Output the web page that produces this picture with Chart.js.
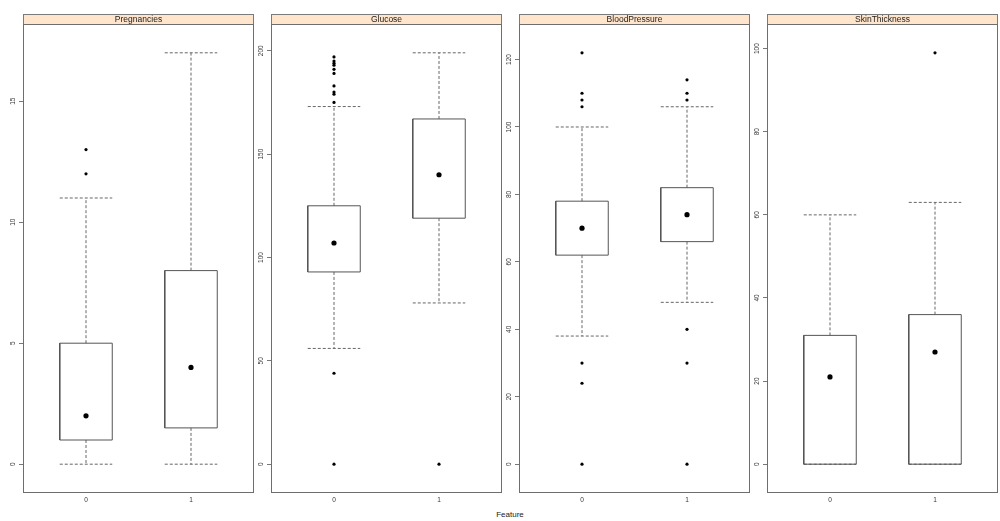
<!DOCTYPE html>
<html><head><meta charset="utf-8">
<script src="https://cdn.jsdelivr.net/npm/chart.js@4"></script>
<style>
html,body{margin:0;padding:0;background:#fff;width:1000px;height:521px;overflow:hidden;font-family:"Liberation Sans",Arial,sans-serif;}
.panel{position:absolute;top:0;width:258px;height:510px;}
#xlab{position:absolute;left:460px;width:100px;top:510px;text-align:center;font-size:8px;line-height:10px;color:#222;}
</style></head><body>
<div class="panel" style="left:0px"><canvas id="c0" width="258" height="510"></canvas></div>
<div class="panel" style="left:248px"><canvas id="c1" width="258" height="510"></canvas></div>
<div class="panel" style="left:496px"><canvas id="c2" width="258" height="510"></canvas></div>
<div class="panel" style="left:744px"><canvas id="c3" width="258" height="510"></canvas></div>
<div id="xlab">Feature</div>
<script>
// ---- data ----
const features = ['Pregnancies', 'Glucose', 'BloodPressure', 'SkinThickness'];
const groups = ['0', '1'];

const pregLower = [0, 0];
const pregQ1 = [1, 1.5];
const pregMedian = [2, 4];
const pregQ3 = [5, 8];
const pregUpper = [11, 17];
const pregOutliers = [[12, 13], []];
const pregTicks = [0, 5, 10, 15];

const gluLower = [56, 78];
const gluQ1 = [93, 119];
const gluMedian = [107, 140];
const gluQ3 = [125, 167];
const gluUpper = [173, 199];
const gluOutliers = [[0, 44, 175, 179, 180, 183, 189, 191, 193, 194, 195, 197], [0]];
const gluTicks = [0, 50, 100, 150, 200];

const bpLower = [38, 48];
const bpQ1 = [62, 66];
const bpMedian = [70, 74];
const bpQ3 = [78, 82];
const bpUpper = [100, 106];
const bpOutliers = [[0, 24, 30, 106, 108, 110, 122], [0, 30, 40, 108, 110, 114]];
const bpTicks = [0, 20, 40, 60, 80, 100, 120];

const skinLower = [0, 0];
const skinQ1 = [0, 0];
const skinMedian = [21, 27];
const skinQ3 = [31, 36];
const skinUpper = [60, 63];
const skinOutliers = [[], [99]];
const skinTicks = [0, 20, 40, 60, 80, 100];

// ---- build panels ----
const panels = [
  {title: features[0], lower: pregLower, q1: pregQ1, med: pregMedian, q3: pregQ3, upper: pregUpper, out: pregOutliers, ticks: pregTicks},
  {title: features[1], lower: gluLower, q1: gluQ1, med: gluMedian, q3: gluQ3, upper: gluUpper, out: gluOutliers, ticks: gluTicks},
  {title: features[2], lower: bpLower, q1: bpQ1, med: bpMedian, q3: bpQ3, upper: bpUpper, out: bpOutliers, ticks: bpTicks},
  {title: features[3], lower: skinLower, q1: skinQ1, med: skinMedian, q3: skinQ3, upper: skinUpper, out: skinOutliers, ticks: skinTicks}
];

const FONT = '"Liberation Sans", Arial, sans-serif';

const panelDecor = {
  id: 'panelDecor',
  afterDraw(chart, args, opts) {
    const ctx = chart.ctx, a = chart.chartArea, ys = chart.scales.y;
    const L = Math.round(a.left) + 0.5, R = Math.round(a.right) - 0.5;
    const T = Math.round(a.top) + 0.5, B = Math.round(a.bottom) - 0.5;
    ctx.save();
    // strip
    ctx.fillStyle = '#ffe5cc';
    ctx.fillRect(L, T - 10, R - L, 10);
    ctx.strokeStyle = '#7a7a7a';
    ctx.lineWidth = 1;
    ctx.strokeRect(L, T - 10, R - L, 10);
    ctx.fillStyle = '#222';
    ctx.font = '8.5px ' + FONT;
    ctx.textAlign = 'center';
    ctx.textBaseline = 'middle';
    ctx.fillText(opts.title, (L + R) / 2, T - 4.5);
    // frame
    ctx.strokeStyle = '#6e6e6e';
    ctx.strokeRect(L, T, R - L, B - T);
    // y tick marks and rotated labels
    ctx.font = '6.5px ' + FONT;
    ctx.fillStyle = '#333';
    ys.ticks.forEach(t => {
      const y = ys.getPixelForValue(t.value);
      ctx.save();
      ctx.translate(a.left - 10, y);
      ctx.rotate(-Math.PI / 2);
      ctx.fillText(String(t.value), 0, 0);
      ctx.restore();
    });
    ctx.restore();
  }
};

function makeChart(id, p) {
  const h = 0.25;
  const boxPts = [], whiskPts = [], medPts = [], outPts = [];
  let lo = Infinity, hi = -Infinity;
  p.q1.forEach((_, i) => {
    const c = i + 1;
    boxPts.push({x: c - h, y: p.q1[i]}, {x: c + h, y: p.q1[i]}, {x: c + h, y: p.q3[i]},
                {x: c - h, y: p.q3[i]}, {x: c - h, y: p.q1[i]}, {x: c, y: null});
    whiskPts.push({x: c, y: p.q3[i]}, {x: c, y: p.upper[i]}, {x: c, y: null},
                  {x: c - h, y: p.upper[i]}, {x: c + h, y: p.upper[i]}, {x: c, y: null},
                  {x: c, y: p.q1[i]}, {x: c, y: p.lower[i]}, {x: c, y: null},
                  {x: c - h, y: p.lower[i]}, {x: c + h, y: p.lower[i]}, {x: c, y: null});
    medPts.push({x: c, y: p.med[i]});
    p.out[i].forEach(v => outPts.push({x: c, y: v}));
    [p.lower[i], p.upper[i], ...p.out[i]].forEach(v => { lo = Math.min(lo, v); hi = Math.max(hi, v); });
  });
  const pad = (hi - lo) * 0.07;
  return new Chart(document.getElementById(id), {
    type: 'scatter',
    data: {
      datasets: [
        {data: whiskPts, showLine: true, pointRadius: 0, borderColor: '#666', borderWidth: 1, borderDash: [3, 2], spanGaps: false, order: 4},
        {data: boxPts, showLine: true, pointRadius: 0, borderColor: '#555', borderWidth: 1, spanGaps: false, order: 3},
        {data: medPts, pointRadius: 2.6, backgroundColor: '#000', borderWidth: 0, order: 2},
        {data: outPts, pointRadius: 1.6, backgroundColor: '#000', borderWidth: 0, order: 1}
      ]
    },
    options: {
      responsive: false,
      animation: false,
      events: [],
      layout: {padding: {top: 24, right: 1, left: 0, bottom: 0}},
      plugins: {legend: {display: false}, tooltip: {enabled: false}, panelDecor: {title: p.title}},
      scales: {
        x: {
          type: 'linear', min: 0.4, max: 2.6,
          grid: {display: false, drawTicks: false},
          border: {display: false},
          afterBuildTicks: s => { s.ticks = groups.map((g, i) => ({value: i + 1})); },
          ticks: {padding: 3, font: {size: 6.5, family: FONT}, color: '#333', maxRotation: 0, minRotation: 0, autoSkip: false,
                  callback: v => groups[v - 1]},
          afterFit: s => { s.height = 17; }
        },
        y: {
          type: 'linear', min: lo - pad, max: hi + pad,
          grid: {drawOnChartArea: false, drawTicks: true, tickLength: 4, color: '#777'},
          border: {display: false},
          afterBuildTicks: s => { s.ticks = p.ticks.map(v => ({value: v})); },
          ticks: {display: false},
          afterFit: s => { s.width = 23; }
        }
      }
    },
    plugins: [panelDecor]
  });
}

panels.forEach((p, i) => makeChart('c' + i, p));
</script>
</body></html>
